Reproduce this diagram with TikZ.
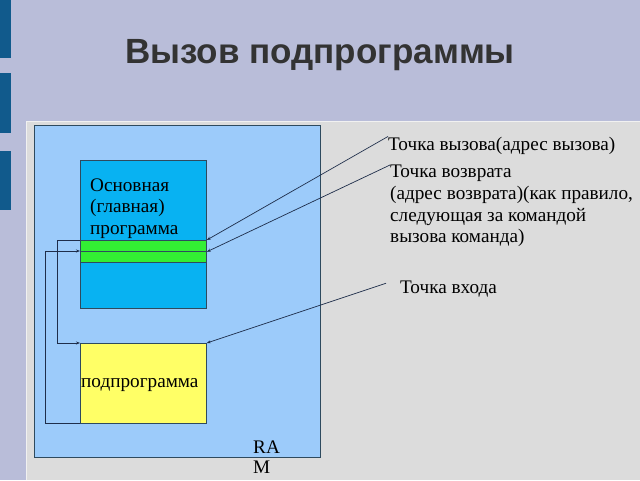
\documentclass[tikz,border=0pt]{standalone}
\usepackage{fontspec}
\setmainfont{Liberation Serif}
\newfontfamily\titlefont{Liberation Sans}
\usetikzlibrary{arrows.meta}
\definecolor{bgl}{HTML}{B9BDD9}
\definecolor{panel}{HTML}{DCDCDC}
\definecolor{barc}{HTML}{115A8C}
\definecolor{ramc}{HTML}{9CCBFA}
\definecolor{mainc}{HTML}{08B2F2}
\definecolor{greenc}{HTML}{33EE33}
\definecolor{yellowc}{HTML}{FFFF66}
\definecolor{edgec}{HTML}{2E4A5E}
\definecolor{linec}{HTML}{1E2D4A}
\definecolor{titlec}{HTML}{333333}
\tikzset{
  box/.style={draw=edgec, line width=0.8pt, anchor=north west, inner sep=0pt, minimum width=126pt},
  conn/.style={draw=linec, line width=0.7pt, -{Stealth[length=4pt,width=3pt]}},
  lbl/.style={inner sep=0pt, font=\fontsize{19.2}{21.7}\selectfont, text=black},
}
\begin{document}
\begin{tikzpicture}[x=1pt,y=-1pt]
\useasboundingbox (0,0) rectangle (640,480);
\fill[bgl] (0,0) rectangle (640,480);
\fill[panel] (26,121) rectangle (640,480);
\draw[white!60!panel, line width=1pt] (26.5,480) -- (26.5,121.5) -- (640,121.5);
\fill[barc] (0,0) rectangle (11,58);
\fill[barc] (0,73) rectangle (11,133);
\fill[barc] (0,151) rectangle (11,210);

\node[anchor=base west, inner sep=0pt, text=titlec, font=\titlefont\bfseries\fontsize{35}{40}\selectfont] (title) at (125,63) {Вызов подпрограммы};

\node[box, fill=ramc, minimum width=286pt, minimum height=332pt] (ram) at (34,125) {};
\node[box, fill=mainc, minimum height=148pt] (main) at (80,160) {};
\node[box, fill=greenc, minimum height=11pt] (greenA) at (80,240) {};
\node[box, fill=greenc, minimum height=11pt] (greenB) at (80,251) {};
\node[box, fill=yellowc, minimum height=80pt] (sub) at (80,343) {};

\node[lbl, anchor=north west, align=left, font=\fontsize{19.2}{21.5}\selectfont] (maintext) at (90,178.5) {Основная\\(главная)\\программа};
\node[lbl, anchor=base west] (subtext) at (81,387) {подпрограмма};
\node[lbl, anchor=north west, align=left, font=\fontsize{19.2}{20}\selectfont] (ramtext) at (253,440.3) {RA\\M};

\node[lbl, anchor=base west] (call) at (388,150) {Точка вызова(адрес вызова)};
\node[lbl, anchor=north west, align=left] (ret) at (390,165) {Точка возврата\\(адрес возврата)(как правило,\\следующая за командой\\вызова команда)};
\node[lbl, anchor=base west] (entry) at (400,293) {Точка входа};

\draw[conn] (call.north west) -- (greenA.north east);
\draw[conn] (ret.north west) -- (greenA.south east);
\draw[conn] ([xshift=-14pt,yshift=-3pt]entry.north west) -- (sub.north east);

\draw[conn] (greenA.north west) -- ++(-23,0) |- (sub.north west);
\draw[conn] (sub.south west) -- ++(-35,0) |- (greenB.north west);
\end{tikzpicture}
\end{document}
